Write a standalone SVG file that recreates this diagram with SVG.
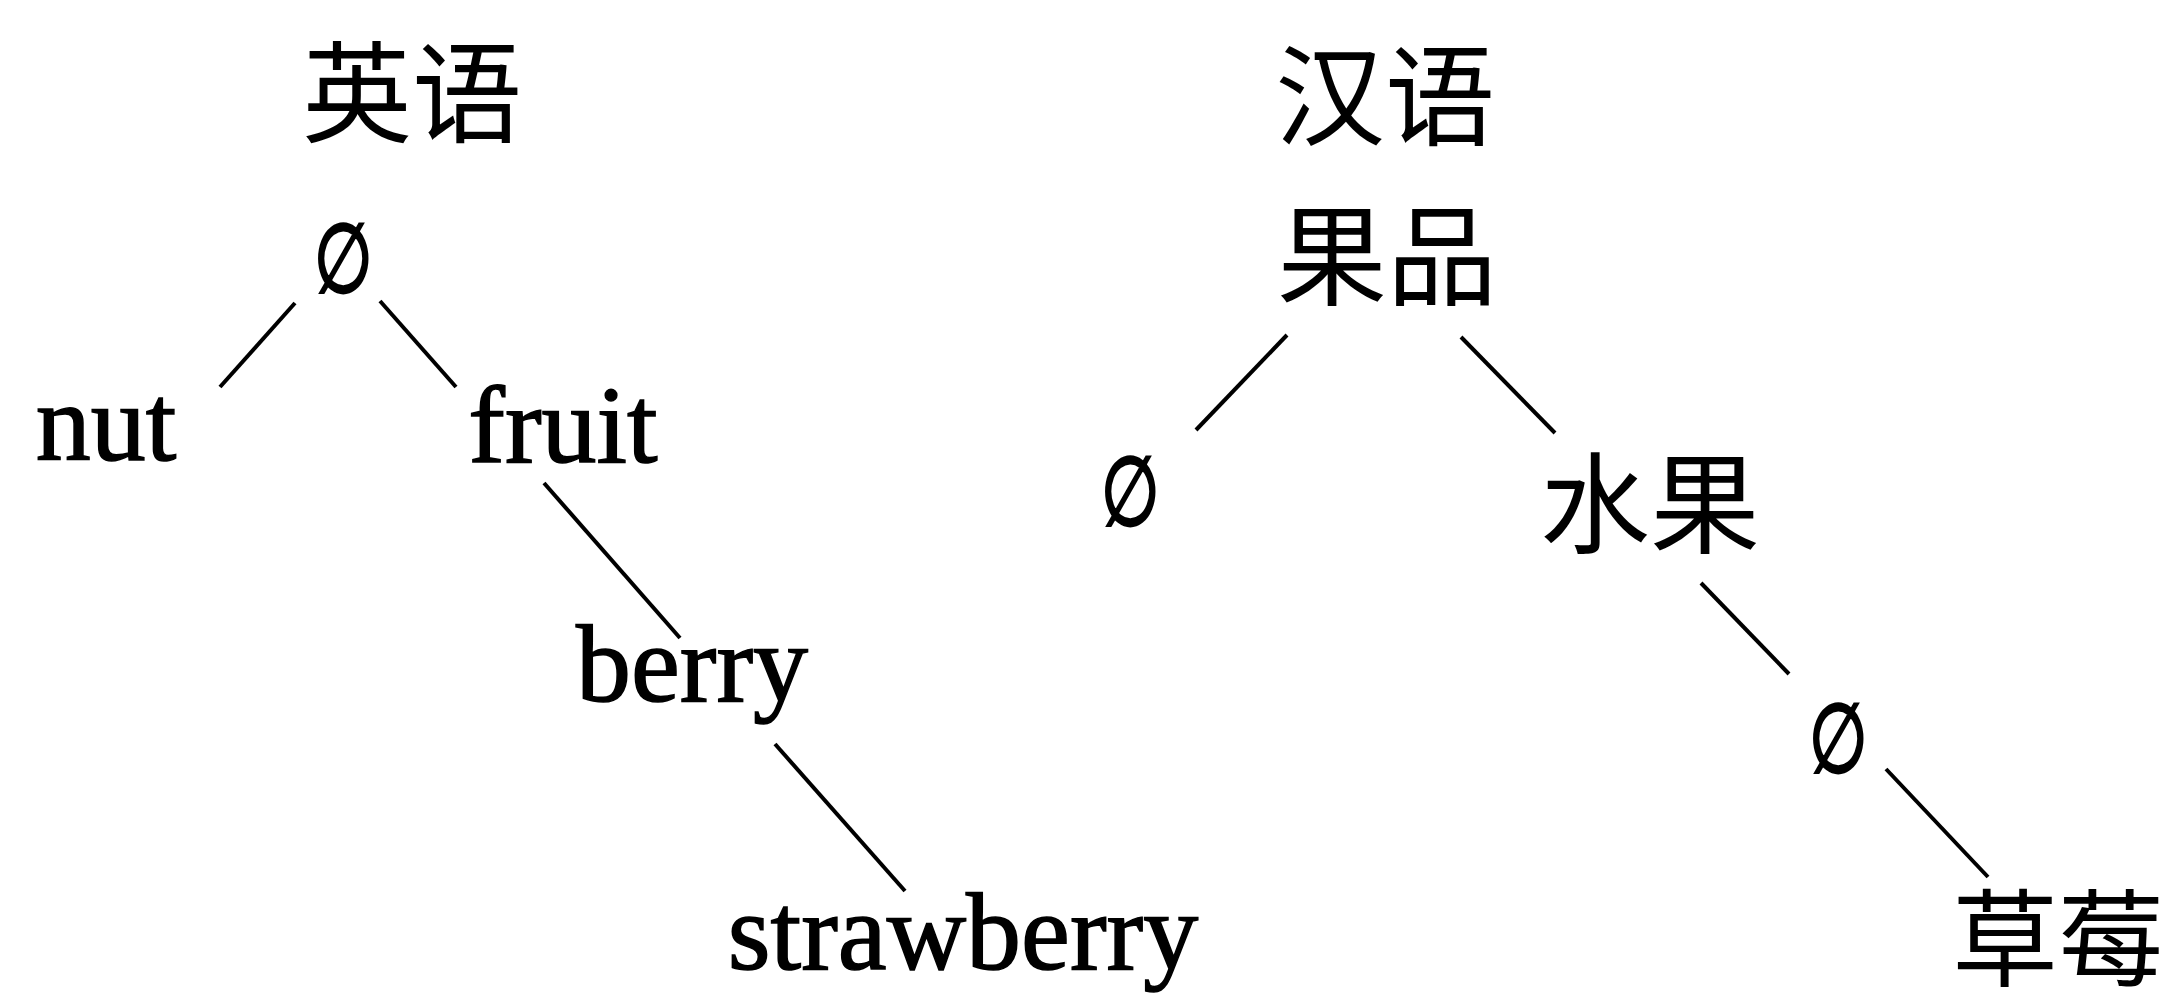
<svg xmlns="http://www.w3.org/2000/svg" width="2175" height="1002" viewBox="0 0 2175 1002">
<style>
.lat{font-family:"Liberation Serif","Times New Roman",serif;font-size:110px;fill:#000;stroke:#000;stroke-width:1.5;text-anchor:middle}
.cjk{font-family:"Noto Sans CJK SC","Noto Sans CJK JP",sans-serif;font-size:110px;fill:#000;text-anchor:middle}
.nul{font-family:"DejaVu Serif","Liberation Serif",serif;font-size:96px;fill:#000;stroke:#000;stroke-width:3;text-anchor:middle}
.edge{stroke:#000;stroke-width:4;stroke-linecap:butt;fill:none}
</style>
<rect width="2175" height="1002" fill="#fff"/>
<g id="connectors">
<line class="edge" x1="295" y1="303" x2="220" y2="387"/>
<line class="edge" x1="380" y1="301" x2="456" y2="387"/>
<line class="edge" x1="544" y1="483" x2="680" y2="638"/>
<line class="edge" x1="775" y1="744" x2="905" y2="891"/>
<line class="edge" x1="1287" y1="335" x2="1196" y2="430"/>
<line class="edge" x1="1461" y1="337" x2="1555" y2="433"/>
<line class="edge" x1="1701" y1="583" x2="1789" y2="674"/>
<line class="edge" x1="1886" y1="769" x2="1988" y2="877"/>
</g>
<g id="title-en"><text class="cjk" x="412" y="134">英语</text></g>
<g id="title-zh"><text class="cjk" x="1385" y="137">汉语</text></g>
<g id="en-root"><text class="nul" transform="translate(343,0) scale(0.7,1)" x="0" y="292">∅</text></g>
<g id="en-nut"><text class="lat" x="106" y="460">nut</text></g>
<g id="en-fruit"><text class="lat" x="563" y="462">fruit</text></g>
<g id="en-berry"><text class="lat" x="692" y="701">berry</text></g>
<g id="en-strawberry"><text class="lat" x="963" y="969">strawberry</text></g>
<g id="zh-root"><text class="cjk" x="1387" y="297">果品</text></g>
<g id="zh-null1"><text class="nul" transform="translate(1130,0) scale(0.7,1)" x="0" y="525">∅</text></g>
<g id="zh-fruit"><text class="cjk" x="1650" y="545">水果</text></g>
<g id="zh-null2"><text class="nul" transform="translate(1838,0) scale(0.7,1)" x="0" y="772">∅</text></g>
<g id="zh-strawberry"><text class="cjk" x="2058" y="978" style="font-size:106px">草莓</text></g>
</svg>
